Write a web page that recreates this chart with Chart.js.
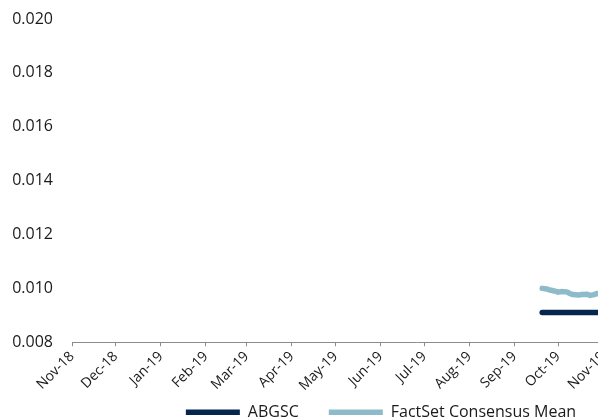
<!DOCTYPE html>
<html>
<head>
<meta charset="utf-8">
<script src="https://cdn.jsdelivr.net/npm/chart.js@4/dist/chart.umd.min.js"></script>
<style>
  html, body { margin: 0; padding: 0; background: #ffffff; overflow: hidden; }
  #frame { width: 598px; height: 418px; overflow: hidden; position: relative; }
  #frame canvas { position: absolute; left: 0; top: 0; }
</style>
</head>
<body>
<div id="frame"><canvas id="chart" width="762" height="452"></canvas></div>
<script>
// Month ticks along the date axis
const tickDates  = ['2018-11-01','2018-12-01','2019-01-01','2019-02-01','2019-03-01','2019-04-01',
                    '2019-05-01','2019-06-01','2019-07-01','2019-08-01','2019-09-01','2019-10-01',
                    '2019-11-01','2019-12-01','2020-01-01','2020-02-01'];
const tickLabels = ['Nov-18','Dec-18','Jan-19','Feb-19','Mar-19','Apr-19','May-19','Jun-19',
                    'Jul-19','Aug-19','Sep-19','Oct-19','Nov-19','Dec-19','Jan-20','Feb-20'];
const axisStart = '2018-11-01';
const axisEnd   = '2020-02-18';

// ABGSC estimate
const abgscDates  = ['2019-09-20','2019-10-01','2019-10-15','2019-11-01'];
const abgscValues = [0.0091, 0.0091, 0.0091, 0.0091];

// FactSet consensus mean
const factsetDates  = ['2019-09-20','2019-09-23','2019-09-25','2019-09-27','2019-09-30','2019-10-01',
                       '2019-10-03','2019-10-07','2019-10-09','2019-10-11','2019-10-15','2019-10-17',
                       '2019-10-21','2019-10-23','2019-10-25','2019-10-28','2019-10-30','2019-11-01'];
const factsetValues = [0.01000, 0.00998, 0.00994, 0.00992, 0.00988, 0.00986,
                       0.00988, 0.00987, 0.00981, 0.00977, 0.00975, 0.00977,
                       0.00978, 0.00974, 0.00976, 0.00981, 0.00980, 0.00979];

const yMin = 0.008, yMax = 0.020, yStep = 0.002;

const DAY_MS = 86400000;
function dayIndex(s) {
  const [y, m, d] = s.split('-').map(Number);
  const [y0, m0, d0] = axisStart.split('-').map(Number);
  return (Date.UTC(y, m - 1, d) - Date.UTC(y0, m0 - 1, d0)) / DAY_MS;
}
const toPoints = (dates, values) => dates.map((d, i) => ({ x: dayIndex(d), y: values[i] }));

const FONT = 'Open Sans';
const TEXT = '#1a1a1a';

// Keep the legend row a fixed distance below the plot area
const legendPlacement = {
  id: 'legendPlacement',
  afterLayout(chart) {
    const lg = chart.legend;
    if (!lg) return;
    const h = lg.bottom - lg.top;
    lg.top = chart.chartArea.bottom + 32;
    lg.bottom = lg.top + h;
  }
};

new Chart(document.getElementById('chart'), {
  type: 'line',
  data: {
    datasets: [
      {
        label: 'ABGSC',
        data: toPoints(abgscDates, abgscValues),
        borderColor: '#06264f',
        backgroundColor: '#06264f',
        borderWidth: 5.5,
        borderCapStyle: 'round',
        borderJoinStyle: 'round',
        pointRadius: 0,
        tension: 0
      },
      {
        label: 'FactSet Consensus Mean',
        data: toPoints(factsetDates, factsetValues),
        borderColor: '#8dbbc9',
        backgroundColor: '#8dbbc9',
        borderWidth: 5.5,
        borderCapStyle: 'round',
        borderJoinStyle: 'round',
        pointRadius: 0,
        tension: 0
      }
    ]
  },
  options: {
    responsive: false,
    animation: false,
    layout: { padding: { top: 19, left: 0, right: 0, bottom: 0 } },
    plugins: {
      tooltip: { enabled: false },
      legend: {
        position: 'bottom',
        align: 'center',
        labels: {
          usePointStyle: true,
          pointStyle: 'line',
          pointStyleWidth: 54,
          padding: 30,
          color: TEXT,
          font: { family: FONT, size: 16 }
        }
      }
    },
    scales: {
      x: {
        type: 'linear',
        min: dayIndex(axisStart),
        max: dayIndex(axisEnd),
        afterBuildTicks: (axis) => { axis.ticks = tickDates.map(d => ({ value: dayIndex(d) })); },
        grid: { display: true, drawOnChartArea: false, drawTicks: true, tickLength: 4, color: '#8c8c8c', lineWidth: 1 },
        border: { display: true, color: '#8c8c8c', width: 1 },
        ticks: {
          autoSkip: false,
          minRotation: 45,
          maxRotation: 45,
          padding: 2,
          color: TEXT,
          font: { family: FONT, size: 14 },
          callback: (value, index) => tickLabels[index]
        }
      },
      y: {
        min: yMin,
        max: yMax,
        afterFit: (axis) => { axis.width = 72; },
        grid: { display: false, drawTicks: true, tickLength: 17 },
        border: { display: false },
        ticks: {
          stepSize: yStep,
          padding: 2,
          color: TEXT,
          font: { family: FONT, size: 16 },
          callback: (value) => value.toFixed(3)
        }
      }
    }
  },
  plugins: [legendPlacement]
});
</script>
</body>
</html>
